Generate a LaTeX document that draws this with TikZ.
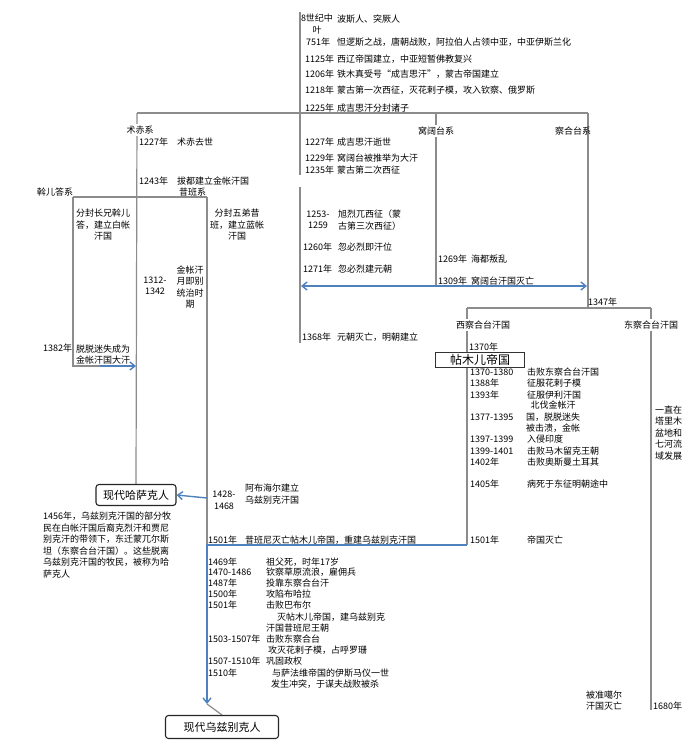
\documentclass[tikz,border=0pt]{standalone}
\usepackage{fontspec}
\setmainfont{Noto Sans CJK SC}
\usetikzlibrary{arrows.meta, backgrounds}
\definecolor{linegray}{RGB}{140,140,140}
\definecolor{arrowblue}{RGB}{79,129,189}

\begin{document}
\begin{tikzpicture}[x=1pt, y=-1pt,
    txt/.style={anchor=west, inner sep=0pt, align=left, font=\fontsize{9}{11.5}\selectfont},
    ctr/.style={align=center, inner sep=0pt, font=\fontsize{9}{11.5}\selectfont},
    lbl/.style={fill=white, inner sep=1.5pt, font=\fontsize{9}{11.5}\selectfont},
    folk/.style={draw=black!85, fill=white, rounded corners=3pt, line width=1.1pt, font=\fontsize{11}{13}\selectfont, inner sep=0pt},
    empire/.style={draw=black!80, fill=white, line width=0.8pt, font=\fontsize{12}{14}\selectfont, minimum width=89pt, minimum height=15pt, inner sep=0pt},
    branch/.style={draw=linegray, line width=1.2pt},
    flow/.style={draw=arrowblue, line width=1.4pt},
    tip/.style={-{Straight Barb[length=5pt, width=8pt]}}
]
\useasboundingbox (0,0) rectangle (696,748);

% early history
\node[ctr] (c8)    at (317,24) {8世纪中\\叶};
\node[txt] (e8)    at (337,19) {波斯人、突厥人};
\node[txt] (y751)  at (306,42) {751年};
\node[txt] (e751)  at (337,42) {怛逻斯之战，唐朝战败，阿拉伯人占领中亚，中亚伊斯兰化};
\node[txt] (y1125) at (305,59) {1125年};
\node[txt] (e1125) at (337,59) {西辽帝国建立，中亚短暂佛教复兴};
\node[txt] (y1206) at (305,74) {1206年};
\node[txt] (e1206) at (337,74) {铁木真受号“成吉思汗”，蒙古帝国建立};
\node[txt] (y1218) at (305,90) {1218年};
\node[txt] (e1218) at (337,90) {蒙古第一次西征，灭花剌子模，攻入钦察、俄罗斯};
\node[txt] (y1225) at (305,108) {1225年};
\node[txt] (e1225) at (337,108) {成吉思汗分封诸子};

% branches
\node[lbl] (jochi)    at (140,130) {术赤系};
\node[lbl] (ogedei)   at (436,131) {窝阔台系};
\node[txt] (chagatai) at (555,131) {察合台系};

\node[txt] (y1227a) at (139,142) {1227年};
\node[txt] (e1227a) at (177,142) {术赤去世};
\node[txt] (y1227b) at (305,142) {1227年};
\node[txt] (e1227b) at (337,142) {成吉思汗逝世};
\node[txt] (y1229)  at (305,158) {1229年};
\node[txt] (e1229)  at (337,158) {窝阔台被推举为大汗};
\node[txt] (y1235)  at (305,170) {1235年};
\node[txt] (e1235)  at (337,170) {蒙古第二次西征};
\node[txt] (y1243)  at (139,181) {1243年};
\node[txt] (e1243)  at (177,181) {拔都建立金帐汗国};
\node[txt] (orda)   at (37,192) {斡儿答系};
\node[txt] (shiban) at (179,192) {昔班系};
\node[ctr] (whitehorde) at (103,225) {分封长兄斡儿\\答，建立白帐\\汗国};
\node[ctr] (bluehorde)  at (237,225) {分封五弟昔\\班，建立蓝帐\\汗国};
\node[ctr] (y1253)  at (318,220) {1253-\\1259};
\node[txt] (e1253)  at (338,220) {旭烈兀西征（蒙\\古第三次西征）};
\node[txt] (y1260)  at (303,247) {1260年};
\node[txt] (e1260)  at (338,247) {忽必烈即汗位};
\node[txt] (y1269)  at (438,259) {1269年};
\node[txt] (e1269)  at (471,259) {海都叛乱};
\node[txt] (y1271)  at (303,269) {1271年};
\node[txt] (e1271)  at (338,269) {忽必烈建元朝};
\node[txt] (y1309)  at (438,281) {1309年};
\node[txt] (e1309)  at (471,281) {窝阔台汗国灭亡};
\node[ctr] (y1312)  at (155,286) {1312-\\1342};
\node[ctr] (uzbeg)  at (190,287) {金帐汗\\月即别\\统治时\\期};
\node[txt] (y1347)  at (588,302) {1347年};
\node[lbl] (westchag) at (483,325) {西察合台汗国};
\node[lbl] (eastchag) at (651,325) {东察合台汗国};
\node[txt] (y1368)  at (302,337) {1368年};
\node[txt] (e1368)  at (337,337) {元朝灭亡，明朝建立};
\node[txt] (y1382)  at (43,348) {1382年};
\node[txt] (e1382)  at (76,354.5) {脱脱迷失成为\\金帐汗国大汗};

% Timurid empire
\node[txt] (y1370)  at (469,347) {1370年};
\node[empire] (timur) at (480,359.5) {帖木儿帝国};
\node[txt] (t1370)  at (470,372) {1370-1380};
\node[txt] (s1370)  at (527,372) {击败东察合台汗国};
\node[txt] (t1388)  at (470,383) {1388年};
\node[txt] (s1388)  at (527,383) {征服花剌子模};
\node[txt] (t1393)  at (470,395) {1393年};
\node[txt] (s1393)  at (527,395) {征服伊利汗国};
\node[txt] (t1377)  at (470,417) {1377-1395};
\node[ctr] (s1377)  at (553,417) {北伐金帐汗\\国，脱脱迷失\\被击溃，金帐};
\node[txt] (t1397)  at (470,439) {1397-1399};
\node[txt] (s1397)  at (527,439) {入侵印度};
\node[txt] (t1399)  at (470,451) {1399-1401};
\node[txt] (s1399)  at (527,451) {击败马木留克王朝};
\node[txt] (t1402)  at (470,462) {1402年};
\node[txt] (s1402)  at (527,462) {击败奥斯曼土耳其};
\node[txt] (t1405)  at (470,484) {1405年};
\node[txt] (s1405)  at (527,484) {病死于东征明朝途中};
\node[txt] (t1501)  at (470,540) {1501年};
\node[txt] (s1501)  at (527,540) {帝国灭亡};
\node[txt] (tarim)  at (655,433) {一直在\\塔里木\\盆地和\\七河流\\域发展};

% Kazakh and Uzbek
\node[folk, minimum width=80pt, minimum height=21pt] (kazakh) at (136,495) {现代哈萨克人};
\node[ctr] (y1428) at (224,500.5) {1428-\\1468};
\node[txt] (e1428) at (245,494) {阿布海尔建立\\乌兹别克汗国};
\node[txt] (migrate) at (43,545) {1456年，乌兹别克汗国的部分牧\\民在白帐汗国后裔克烈汗和贾尼\\别克汗的带领下，东迁蒙兀尔斯\\坦（东察合台汗国）。这些脱离\\乌兹别克汗国的牧民，被称为哈\\萨克人};
\node[txt] (y1501s) at (208,540) {1501年};
\node[txt] (e1501s) at (245,540) {昔班尼灭亡帖木儿帝国，重建乌兹别克汗国};

\node[txt] (u1469) at (208,562) {1469年};
\node[txt] (v1469) at (266,562) {祖父死，时年17岁};
\node[txt] (u1470) at (208,572) {1470-1486};
\node[txt] (v1470) at (266,572) {钦察草原流浪，雇佣兵};
\node[txt] (u1487) at (208,583) {1487年};
\node[txt] (v1487) at (266,583) {投靠东察合台汗};
\node[txt] (u1500) at (208,594) {1500年};
\node[txt] (v1500) at (266,594) {攻陷布哈拉};
\node[txt] (u1501) at (208,605) {1501年};
\node[txt] (v1501) at (266,605) {击败巴布尔};
\node[txt] (v1501b) at (277,617) {灭帖木儿帝国，建乌兹别克};
\node[txt] (v1501c) at (266,628) {汗国昔班尼王朝};
\node[txt] (u1503) at (208,639) {1503-1507年};
\node[txt] (v1503) at (266,639) {击败东察合台};
\node[txt] (v1503b) at (268,650) {攻灭花剌子模，占呼罗珊};
\node[txt] (u1507) at (208,661) {1507-1510年};
\node[txt] (v1507) at (266,661) {巩固政权};
\node[txt] (u1510) at (208,673) {1510年};
\node[txt] (v1510) at (272,673) {与萨法维帝国的伊斯马仪一世};
\node[txt] (v1510b) at (271,684) {发生冲突，于谋夫战败被杀};
\node[folk, minimum width=113pt, minimum height=23pt] (uzbek) at (222,727) {现代乌兹别克人};

\node[txt] (zunghar) at (586,700.5) {被准噶尔\\汗国灭亡};
\node[txt] (y1680) at (653,706) {1680年};

% junctions
\coordinate (rootTop)    at (300,12);
\coordinate (rootCut)    at (300,175);
\coordinate (rootResume) at (300,187);
\coordinate (rootEnd)    at (300,343);
\coordinate (barW)       at (137,113);
\coordinate (barE)       at (588,113);
\coordinate (ogdTop)     at (436,113);
\coordinate (ogdEnd)     at (436,286);
\coordinate (splitW)     at (301,286);
\coordinate (splitE)     at (587,286);
\coordinate (hordeW)     at (73,197);
\coordinate (hordeE)     at (207,197);
\coordinate (whiteEnd)   at (73,366);
\coordinate (whiteBlue)  at (100,366);
\coordinate (jochiHit)   at (136,366);
\coordinate (chagSplit)  at (588,308);
\coordinate (westTop)    at (467,308);
\coordinate (eastTop)    at (651,308);
\coordinate (westEnd)    at (467,545);
\coordinate (eastEnd)    at (651,710);
\coordinate (shibanKz)   at (207,498);
\coordinate (shibanTurn) at (207,545);
\coordinate (shibanTip)  at (207,704);

\begin{scope}[on background layer]
\draw[branch] (rootTop) -- (rootCut);
\draw[branch] (rootResume) -- (rootEnd);
\draw[branch] (barW) -- (barE);
\draw[branch] (barW) -- (kazakh.north);
\draw[branch] (ogdTop) -- (ogdEnd);
\draw[branch] (barE) -- (chagSplit);
\draw[branch] (hordeW) -- (hordeE);
\draw[branch] (hordeW) -- (whiteEnd) -- (whiteBlue);
\draw[branch] (hordeE) -- (shibanTurn);
\draw[branch] (westTop) -- (eastTop);
\draw[branch] (westTop) -- (westEnd);
\draw[branch] (eastTop) -- (eastEnd);
\draw[branch] (shibanTip) -- (uzbek.north);
\end{scope}

% blue arrows
\draw[flow, tip] (whiteBlue) -- (jochiHit);
\draw[flow, {Straight Barb[length=5pt, width=8pt]}-{Straight Barb[length=5pt, width=8pt]}] (splitW) -- (splitE);
\draw[flow, tip] (shibanKz) -- (kazakh.east);
\draw[flow, tip] (westEnd) -- (shibanTurn) -- (shibanTip);

\end{tikzpicture}
\end{document}
